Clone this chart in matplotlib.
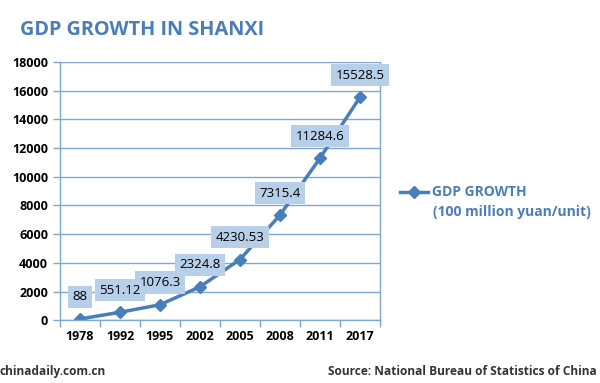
import matplotlib
matplotlib.use("Agg")
import matplotlib.pyplot as plt

years = ["1978", "1992", "1995", "2002", "2005", "2008", "2011", "2017"]
gdp = [88, 551.12, 1076.3, 2324.8, 4230.53, 7315.4, 11284.6, 15528.5]
labels = ["88", "551.12", "1076.3", "2324.8", "4230.53", "7315.4", "11284.6", "15528.5"]
yticks = [0, 2000, 4000, 6000, 8000, 10000, 12000, 14000, 16000, 18000]

blue = "#4a7ebb"
grid_blue = "#7ea6d6"
box_blue = "#b8cfea"

plt.rcParams['font.family'] = ['Open Sans', 'DejaVu Sans']

fig = plt.figure(figsize=(6, 3.83), dpi=100)
ax = fig.add_axes([0.1, 0.164, 0.533, 0.674])

x = list(range(len(years)))
ax.plot(x, gdp, color=blue, lw=2.5, marker="D", ms=6.5, mfc=blue, mec=blue,
        label="GDP GROWTH")

# boxes first, then all texts on top so overlapping labels stay readable
for xi, v, lab in zip(x, gdp, labels):
    ax.annotate(lab, (xi, v), xytext=(0, 16), textcoords="offset points",
                ha="center", va="center", fontsize=9.5, color="none", zorder=5,
                bbox=dict(boxstyle="square,pad=0.35", fc=box_blue, ec="none"))
    ax.annotate(lab, (xi, v), xytext=(0, 16), textcoords="offset points",
                ha="center", va="center", fontsize=9.5, color="black", zorder=6)

ax.set_xlim(-0.5, 7.5)
ax.set_ylim(0, 18000)
ax.set_yticks(yticks)
ax.set_xticks(x)
ax.set_xticklabels(years, fontsize=9, fontweight="bold")
ax.set_xticks([i + 0.5 for i in range(-1, 8)], minor=True)
ax.tick_params(axis="x", which="major", length=0, pad=7)
ax.tick_params(axis="x", which="minor", length=5, color=grid_blue, width=1)
ax.tick_params(axis="y", length=5, color=grid_blue, width=1, labelsize=9)
for t in ax.get_yticklabels():
    t.set_fontweight("bold")
ax.grid(axis="y", color=grid_blue, lw=1)
ax.set_axisbelow(True)
for s in ["left", "bottom", "right"]:
    ax.spines[s].set_color(grid_blue)
    ax.spines[s].set_linewidth(1)
ax.spines["top"].set_visible(False)

leg = ax.legend(loc="center left", bbox_to_anchor=(1.025, 0.495), frameon=False,
                handlelength=2.0, handletextpad=0.3, prop={"size": 10, "weight": "bold"})
for t in leg.get_texts():
    t.set_color(blue)
fig.text(0.722, 0.446, "(100 million yuan/unit)", fontsize=10, fontweight="bold",
         color=blue, va="center")

fig.text(0.033, 0.922, "GDP GROWTH IN SHANXI", fontsize=14.3, fontweight="bold",
         color=blue, va="center")
fig.text(0.0, 0.02, "chinadaily.com.cn", fontsize=8.6, fontweight="bold", color="#333333")
fig.text(0.995, 0.02, "Source: National Bureau of Statistics of China", fontsize=8.6,
         fontweight="bold", color="#333333", ha="right")

fig.savefig("out.png", dpi=100)
